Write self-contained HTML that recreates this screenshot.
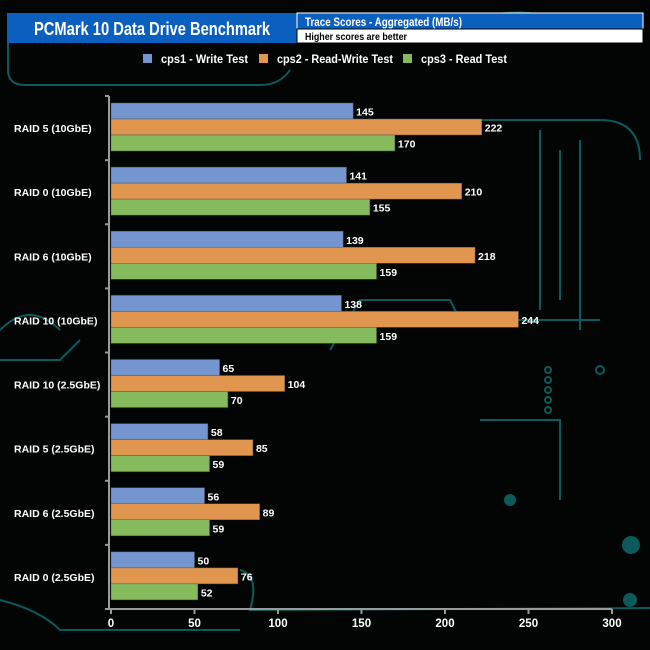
<!DOCTYPE html>
<html><head><meta charset="utf-8">
<style>
html,body{margin:0;padding:0;background:#000;}
svg{display:block;font-family:"Liberation Sans",Arial,sans-serif;}
</style></head>
<body>
<svg id="chart" width="650" height="650" viewBox="0 0 650 650">
  <rect x="0" y="0" width="650" height="650" fill="#030505"/>
  <g stroke="#0c5a5c" stroke-width="2" fill="none">
    <path d="M8 15 L8 70 Q8 85 25 85 L260 85 Q280 85 290 70"/>
    <path d="M0 360 L60 360 L80 340"/>
    <path d="M0 330 Q30 300 60 330"/>
    <path d="M300 130 L330 120 L600 120 Q640 120 640 160"/>
    <path d="M240 570 Q260 575 250 610 L650 608"/>
    <path d="M330 350 L360 300 L450 300 L460 320 L600 320"/>
    <path d="M480 420 L560 420 L560 500"/>
    <path d="M540 130 L540 310 M560 150 L560 300 M580 140 L580 330"/>
    <path d="M0 600 Q40 610 60 630 L240 630"/>
    <circle cx="631" cy="545" r="8" fill="#0c5a5c"/>
    <circle cx="630" cy="600" r="6" fill="#0c5a5c"/>
    <circle cx="600" cy="370" r="4"/>
    <circle cx="548" cy="370" r="3"/><circle cx="548" cy="380" r="3"/><circle cx="548" cy="390" r="3"/><circle cx="548" cy="400" r="3"/><circle cx="548" cy="410" r="3"/>
    <circle cx="510" cy="500" r="5" fill="#0c5a5c"/>
    <path d="M470 20 Q520 5 560 20"/>
  </g>
  <rect x="7" y="13" width="290" height="30" fill="#0b5fbf"/>
  <text x="34" y="35" fill="#fff" font-size="18" font-weight="bold" textLength="236" lengthAdjust="spacingAndGlyphs">PCMark 10 Data Drive Benchmark</text>
  <rect x="297" y="13" width="346" height="16" fill="#0b5fbf" stroke="#fff" stroke-width="1"/>
  <text x="305" y="26" fill="#fff" font-size="11.5" font-weight="bold" textLength="157" lengthAdjust="spacingAndGlyphs">Trace Scores - Aggregated (MB/s)</text>
  <rect x="297" y="29" width="346" height="14" fill="#fff" stroke="#000" stroke-width="1"/>
  <text x="305" y="40" fill="#000" font-size="10.5" font-weight="bold" textLength="102" lengthAdjust="spacingAndGlyphs">Higher scores are better</text>
  <g id="legend"></g>
  <g id="plot"></g>
</svg>
<script>
const categories = ["RAID 5 (10GbE)","RAID 0 (10GbE)","RAID 6 (10GbE)","RAID 10 (10GbE)","RAID 10 (2.5GbE)","RAID 5 (2.5GbE)","RAID 6 (2.5GbE)","RAID 0 (2.5GbE)"];
const writeValues = [145,141,139,138,65,58,56,50];
const readWriteValues = [222,210,218,244,104,85,89,76];
const readValues = [170,155,159,159,70,59,59,52];
const seriesNames = ["cps1 - Write Test","cps2 - Read-Write Test","cps3 - Read Test"];
const xTicks = [0,50,100,150,200,250,300];

const NS = "http://www.w3.org/2000/svg";
const colors = ["#7496cf","#e0964f","#86bb5d"];
const series = [writeValues, readWriteValues, readValues];
const X0 = 111, X1 = 612, XMAX = 300, Y0 = 96, Y1 = 609;
const band = (Y1 - Y0) / categories.length;
const xs = v => X0 + v / XMAX * (X1 - X0);
function mk(tag, attrs, parent, txt){const e=document.createElementNS(NS,tag);for(const k in attrs)e.setAttribute(k,attrs[k]);if(txt!==undefined)e.textContent=txt;parent.appendChild(e);return e;}
const plot = document.getElementById('plot');
const legend = document.getElementById('legend');

// legend
const lx = [143, 259, 403];
const lw = [87, 116, 86];
seriesNames.forEach((n,i)=>{
  const g = mk('g',{},legend);
  
  
  mk('rect',{x:lx[i],y:54,width:9,height:9,fill:colors[i]},g);
  mk('text',{x:lx[i]+18,y:63,fill:'#fff','font-size':11.5,'font-weight':'bold',textLength:lw[i],lengthAdjust:'spacingAndGlyphs'},g,n);
});

// axes
const ya = mk('line',{x1:X0-2,y1:Y0,x2:X0-2,y2:Y1,stroke:'#9a9a9a','stroke-width':2},plot);


const xa = mk('line',{x1:X0-6,y1:Y1,x2:X1,y2:Y1,stroke:'#9a9a9a','stroke-width':2},plot);


mk('line',{x1:X0-6,y1:Y0,x2:X0-2,y2:Y0,stroke:'#9a9a9a','stroke-width':2},plot);
for(let i=1;i<categories.length;i++){
  mk('line',{x1:X0-6,y1:Y0+i*band,x2:X0-2,y2:Y0+i*band,stroke:'#9a9a9a','stroke-width':2},plot);
}
xTicks.forEach(t=>{
  mk('line',{x1:xs(t),y1:Y1,x2:xs(t),y2:Y1+5,stroke:'#9a9a9a','stroke-width':2},plot);
  const tl = mk('text',{x:xs(t),y:627,fill:'#fff','font-size':11.5,'font-weight':'bold','text-anchor':'middle'},plot,String(t));
  
  
});

// bars
categories.forEach((c,ci)=>{
  const top = Y0 + ci*band;
  const cl = mk('text',{x:14,y:top+band/2+4,fill:'#fff','font-size':10.5,'font-weight':'bold'},plot,c);
  
  
  series.forEach((s,si)=>{
    const v = s[ci];
    const y = top + 7 + si*16;
    const r = mk('rect',{x:X0,y:y,width:xs(v)-X0,height:16,fill:colors[si],stroke:'#555','stroke-width':0.5},plot);
    
    
    const vl = mk('text',{x:xs(v)+3,y:y+12.5,fill:'#fff','font-size':10.5,'font-weight':'bold'},plot,String(v));
    
    
  });
});
</script>
</body></html>
